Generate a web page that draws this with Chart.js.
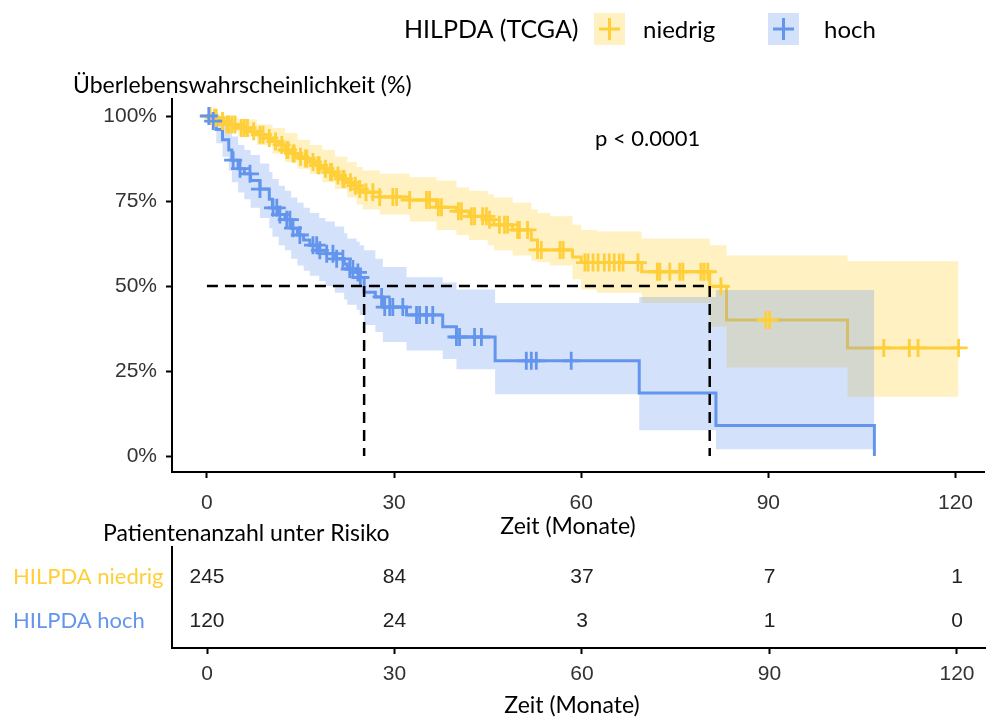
<!DOCTYPE html>
<html>
<head>
<meta charset="utf-8">
<script src="https://cdn.jsdelivr.net/npm/chart.js@4.4.1/dist/chart.umd.min.js"></script>
<style>
body{margin:0;background:#fff;overflow:hidden}
#haupt{position:absolute;left:0;top:0}
#risiko{position:absolute;left:0;top:510px}
</style>
</head>
<body>
<canvas id="haupt" width="986" height="545"></canvas>
<canvas id="risiko" width="986" height="208"></canvas>
<script>
// Achsen
const xTicks = [0, 30, 60, 90, 120];
const yTicks = [0, 25, 50, 75, 100];

// HILPDA niedrig: Zeit (Monate) und Überleben (%)
const niedrigZeit = [0,1,2,3,5,7,8,9.5,10.5,11.5,12.5,13.5,14.5,15.5,16.5,17.5,18.5,19.5,20.5,21.5,22.5,23.5,24,25,27.7,32.5,36.8,40,42,45,46,49,52,53,58.6,60,69.7,80.6,83.3,102.7,120.5];
const niedrigSurv = [100,99.5,98.5,97.5,96.5,95.5,94.5,93.5,92.5,91.5,90,89,88,87.5,86.5,85.5,84.5,83.5,82.5,81.5,80.5,79.5,78.5,77.6,76.2,75.3,73.2,72,70.5,69.5,68,66.5,63.5,60.6,58.5,56.9,54.2,49.9,40,31.8,31.8];
const niedrigBandZeit = [0,1,3,5,8,10.5,12.5,14.5,16.5,18.5,20.5,22.5,24,25,27.7,32.5,36.8,40,42,45,46,49,52,53,55,58.6,60,62.5,69.7,80.6,83.3,102.7,120.5];
const niedrigOben = [100,100,99.5,99,97.5,96.5,95,93,91.5,90,88,86.5,85,84,83,82,81,79,78,77,76,74.5,72.5,71.5,70.5,68,66.5,66,64,62,59,57.3,57.3];
const niedrigUnten = [100,97.5,95.5,94,91.5,89,86.5,84.5,83,80.5,78.5,76,74,72.5,71,69,66.5,65,63.5,62,60.5,59,57.5,57,56,52,49,48,45,38,26,17.4,17.4];
const niedrigZensiert = [0.5,1.2,1.5,2.5,3.2,3.5,4,4.5,5.5,6,6.5,7.5,8.5,9,10,11,12,12.8,13,13.8,14,15,15.8,16,17,17.8,18,19,19.8,20,21,21.8,22,23,23.8,24.5,25.5,26.6,27.7,29.8,30.4,32.5,35.2,35.7,37.1,37.6,40.3,40.8,42.4,42.9,44.2,44.8,45.3,46.9,47.7,48.2,49.8,50.1,51.4,53,53.6,56.6,57.1,60.6,61.1,61.9,62.7,63.7,64.5,65.3,66.1,66.7,69.1,72.2,72.6,74.2,75.8,76.3,79.2,79.7,80.3,82.4,89.6,90.2,108.5,112.6,114,120.5];

// HILPDA hoch
const hochZeit = [0,1,1.5,2.5,3.5,4,5,6,7,8.5,10,10.5,11.5,12.5,13.5,14.5,15.5,16.5,18,19,20.5,22,22.5,24,24.5,25.2,27,28.2,32,37.8,40,46.2,69.3,81.6,107];
const hochSurv = [100,98.5,96,93,90,87,84.5,83,81,78.5,75.5,73,71,69.5,67,65,63.5,62,60.5,59.5,58,56.5,55,54,52.5,48.2,46.8,43.8,41.5,38,35,28,18.5,9,0];
const hochOben = [100,100,99.5,98,96,94,91.5,90,88.5,86,83.5,81.5,79.5,78,76,74.5,73,71.5,70,69,67.5,65.5,64,63,62,60.5,58,55.6,52.6,51,49,45,46.8,48.8,48.8];
const hochUnten = [100,95.5,92,88,84,80.5,77.5,75.5,73,70,67,64.5,62,60.5,58,56,54.5,53,51.5,50,48,46,44.5,43,41.5,38.5,36.5,33.5,31,28.5,25.5,18.2,7.6,2,2];
const hochZensiert = [0.3,1,4.2,5.3,6.9,8.5,10.6,11.2,11.7,12.8,13.3,13.8,14.9,17,17.6,18.1,19.2,20.2,20.8,21.8,22.9,23.4,24.2,24.6,28,28.5,29.3,29.8,31.4,33.6,34.1,35.2,36.2,40,40.5,42.9,44,51.2,52,52.8,58.4];

// Mediane
const medianZeit = [25.2, 80.6];

// Risikotabelle
const risikoZeit = [0, 30, 60, 90, 120];
const risikoNiedrig = [245, 84, 37, 7, 1];
const risikoHoch = [120, 24, 3, 1, 0];

const gelb = '#FFCF3A';
const blau = '#6495ED';
const tickFarbe = '#333333';
const tickFont = {family: 'Liberation Sans', size: 21};

function punkte(zeit, werte) {
  return zeit.map((t, i) => ({x: t, y: werte[i]}));
}
function survBei(zeit, surv, t) {
  let s = surv[0];
  for (let i = 0; i < zeit.length; i++) { if (zeit[i] <= t) s = surv[i]; }
  return s;
}

function band(daten, farbe, fuellung, order) {
  return {data: daten, stepped: true, borderWidth: 0, pointRadius: 0, fill: fuellung,
    backgroundColor: farbe, borderColor: 'rgba(0,0,0,0)', order: order};
}

const datasets = [
  band(punkte(niedrigBandZeit, niedrigOben), 'rgba(255,207,50,0.3)', '+1', 60),
  band(punkte(niedrigBandZeit, niedrigUnten), 'rgba(0,0,0,0)', false, 59),
  {data: punkte(niedrigZeit, niedrigSurv), stepped: true, borderColor: gelb, borderWidth: 3, pointRadius: 0, fill: false, order: 50},
  band(punkte(hochZeit, hochOben), 'rgba(100,149,237,0.28)', '+1', 40),
  band(punkte(hochZeit, hochUnten), 'rgba(0,0,0,0)', false, 39),
  {data: punkte(hochZeit, hochSurv), stepped: true, borderColor: blau, borderWidth: 3, pointRadius: 0, fill: false, order: 30},
  {data: niedrigZensiert.map(t => ({x: t, y: survBei(niedrigZeit, niedrigSurv, t)})), showLine: false,
    pointStyle: 'cross', pointRadius: 9, pointBorderWidth: 2.8, pointBorderColor: gelb, order: 20, clip: false},
  {data: hochZensiert.map(t => ({x: t, y: survBei(hochZeit, hochSurv, t)})), showLine: false,
    pointStyle: 'cross', pointRadius: 9, pointBorderWidth: 2.8, pointBorderColor: blau, order: 19, clip: false},
  {data: [{x: 0, y: 50}, {x: Math.max(...medianZeit), y: 50}], borderColor: '#000', borderWidth: 2.5, borderDash: [11, 7], pointRadius: 0, fill: false, order: 5}
];
medianZeit.forEach(m => {
  datasets.push({data: [{x: m, y: 50}, {x: m, y: 0}], borderColor: '#000', borderWidth: 2.5, borderDash: [11, 7], pointRadius: 0, fill: false, order: 5});
});

function xAchse(hoehe, pad) {
  return {
    type: 'linear', min: -5.6, max: 124.64,
    afterFit: s => { s.height = hoehe; },
    afterBuildTicks: s => { s.ticks = xTicks.map(v => ({value: v})); },
    grid: {drawOnChartArea: false, tickLength: 6, color: '#000', tickWidth: 2},
    border: {color: '#000', width: 2},
    ticks: {font: tickFont, color: tickFarbe, padding: pad, autoSkip: false, maxRotation: 0}
  };
}

const textePlugin = {
  id: 'texte',
  afterDraw(chart) {
    const ctx = chart.ctx;
    ctx.save();
    ctx.textBaseline = 'middle';
    ctx.textAlign = 'left';
    ctx.fillStyle = '#000';
    ctx.font = '23px Lato';
    ctx.fillText('Überlebenswahrscheinlichkeit (%)', 73, 86);
    ctx.font = '22px Lato';
    ctx.fillText('p < 0.0001', 595, 139);
    ctx.font = '25px Lato';
    ctx.fillText('HILPDA (TCGA)', 404, 30);
    // Legende
    ctx.font = '24px Lato';
    const keys = [[594, 'rgba(255,207,50,0.3)', gelb, 'niedrig', 643], [768, 'rgba(100,149,237,0.28)', blau, 'hoch', 824]];
    keys.forEach(k => {
      ctx.fillStyle = k[1];
      ctx.fillRect(k[0], 13, 31, 32);
      ctx.strokeStyle = k[2];
      ctx.lineWidth = 3;
      ctx.beginPath();
      ctx.moveTo(k[0] + 5, 29); ctx.lineTo(k[0] + 26, 29);
      ctx.moveTo(k[0] + 15.5, 18); ctx.lineTo(k[0] + 15.5, 40);
      ctx.stroke();
      ctx.fillStyle = '#000';
      ctx.fillText(k[3], k[4], 30);
    });
    ctx.font = '23px Lato';
    ctx.textAlign = 'center';
    ctx.fillText('Zeit (Monate)', 568, 527);
    ctx.restore();
  }
};

new Chart(document.getElementById('haupt'), {
  type: 'line',
  data: {datasets: datasets},
  options: {
    responsive: false, animation: false, devicePixelRatio: 1,
    layout: {padding: {top: 99, left: 0, right: 0, bottom: 0}, autoPadding: false},
    plugins: {legend: {display: false}, tooltip: {enabled: false}},
    scales: {
      x: xAchse(73, 13),
      y: {
        min: -4.7, max: 105,
        afterFit: s => { s.width = 172; },
        afterBuildTicks: s => { s.ticks = yTicks.map(v => ({value: v})); },
        grid: {drawOnChartArea: false, tickLength: 6, color: '#000', tickWidth: 2},
        border: {color: '#000', width: 2},
        ticks: {font: tickFont, color: tickFarbe, padding: 9, callback: v => v + '%'}
      }
    }
  },
  plugins: [textePlugin]
});

const zahlenPlugin = {
  id: 'zahlen',
  afterDraw(chart) {
    const ctx = chart.ctx;
    ctx.save();
    ctx.font = '21px Liberation Sans';
    ctx.fillStyle = '#222';
    ctx.textAlign = 'center';
    ctx.textBaseline = 'middle';
    [risikoNiedrig, risikoHoch].forEach((werte, d) => {
      chart.getDatasetMeta(d).data.forEach((p, i) => ctx.fillText(String(werte[i]), p.x, p.y));
    });
    ctx.fillStyle = '#000';
    ctx.font = '23px Lato';
    ctx.textAlign = 'left';
    ctx.fillText('Patientenanzahl unter Risiko', 103, 24);
    ctx.textAlign = 'center';
    ctx.fillText('Zeit (Monate)', 572, 196);
    ctx.restore();
  }
};

new Chart(document.getElementById('risiko'), {
  type: 'line',
  data: {datasets: [
    {data: risikoZeit.map(t => ({x: t, y: 1})), showLine: false, pointRadius: 0},
    {data: risikoZeit.map(t => ({x: t, y: 0})), showLine: false, pointRadius: 0}
  ]},
  options: {
    responsive: false, animation: false, devicePixelRatio: 1,
    layout: {padding: {top: 37, left: 13, right: 0, bottom: 0}, autoPadding: false},
    plugins: {legend: {display: false}, tooltip: {enabled: false}},
    scales: {
      x: xAchse(70, 8),
      y: {
        min: -0.62, max: 1.68,
        afterFit: s => { s.width = 159; },
        afterBuildTicks: s => { s.ticks = [{value: 0}, {value: 1}]; },
        grid: {drawOnChartArea: false, drawTicks: false},
        border: {color: '#000', width: 2},
        ticks: {
          crossAlign: 'far', padding: 0,
          font: {family: 'Lato', size: 22},
          color: c => c.tick && c.tick.value === 1 ? gelb : blau,
          callback: v => v === 1 ? 'HILPDA niedrig' : 'HILPDA hoch'
        }
      }
    }
  },
  plugins: [zahlenPlugin]
});
</script>
</body>
</html>
